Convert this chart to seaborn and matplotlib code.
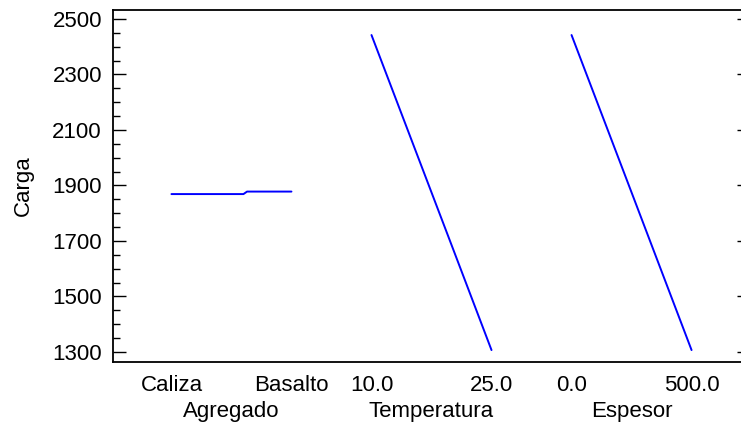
import numpy as np
import pandas as pd
import matplotlib
matplotlib.use("Agg")
import matplotlib.pyplot as plt
import seaborn as sns
from matplotlib.ticker import MultipleLocator

# ---- data ----
factores = ["Agregado", "Temperatura", "Espesor"]
niveles_etq = [["Caliza", "Basalto"], ["10.0", "25.0"], ["0.0", "500.0"]]

# Agregado (categorical, coded 0 = Caliza, 1 = Basalto)
agregado_pos = [0.0, 0.6, 0.63, 1.0]
agregado_carga = [1869, 1869, 1878, 1878]

# Temperatura
temperatura = [10.0, 15.0, 20.0, 25.0]
temperatura_carga = [2442, 2064, 1686, 1307]

# Espesor
espesor = [0.0, 250.0, 500.0]
espesor_carga = [2442, 1875, 1307]

y_ticks = [1300, 1500, 1700, 1900, 2100, 2300, 2500]

# ---- build long table: each factor scaled into its own segment ----
spacing = 1.667
rows = []
for p, c in zip(agregado_pos, agregado_carga):
    rows.append(("Agregado", 0 * spacing + p, c))
for t, c in zip(temperatura, temperatura_carga):
    rows.append(("Temperatura", 1 * spacing + (t - 10.0) / 15.0, c))
for e, c in zip(espesor, espesor_carga):
    rows.append(("Espesor", 2 * spacing + e / 500.0, c))
df = pd.DataFrame(rows, columns=["factor", "pos", "Carga"])

sns.set_theme(style="white")
plt.rcParams["font.family"] = ["Liberation Sans", "DejaVu Sans"]

fig = plt.figure(figsize=(7.41, 4.25), dpi=100)
ax = fig.add_axes([113 / 741, (425 - 362) / 425, 637 / 741, 352.5 / 425])

sns.lineplot(data=df, x="pos", y="Carga", units="factor", estimator=None,
             color="#0000ff", linewidth=1.4, ax=ax, sort=False)

ax.set_xlim(-0.487, 4.821)
ax.set_ylim(1264, 2534)
ax.set_yticks(y_ticks)
ax.yaxis.set_minor_locator(MultipleLocator(50))
ax.tick_params(axis="y", which="major", direction="in", length=9.6, width=1.0,
               color="black", labelsize=16, pad=8, right=True, left=True,
               labelcolor="black")
ax.tick_params(axis="y", which="minor", direction="in", length=5, width=1.0,
               color="black", left=True, right=False)

xt, xl = [], []
for i, labs in enumerate(niveles_etq):
    xt += [i * spacing, i * spacing + 1]
    xl += labs
ax.set_xticks(xt)
ax.set_xticklabels(xl)
ax.tick_params(axis="x", length=0, labelsize=16, pad=9.5, labelcolor="black")

for i, name in enumerate(factores):
    ax.annotate(name, xy=(i * spacing + 0.5, 0), xycoords=("data", "axes fraction"),
                xytext=(0, -39.6), textcoords="offset points",
                ha="center", va="baseline", fontsize=16, color="black")

ax.set_xlabel("")
ax.set_ylabel("Carga", fontsize=16, color="black")
ax.yaxis.set_label_coords(-0.124, 0.5)

for s in ["left", "top", "bottom", "right"]:
    ax.spines[s].set_color("black")
    ax.spines[s].set_linewidth(1.3)

fig.savefig("out.png", dpi=100)
